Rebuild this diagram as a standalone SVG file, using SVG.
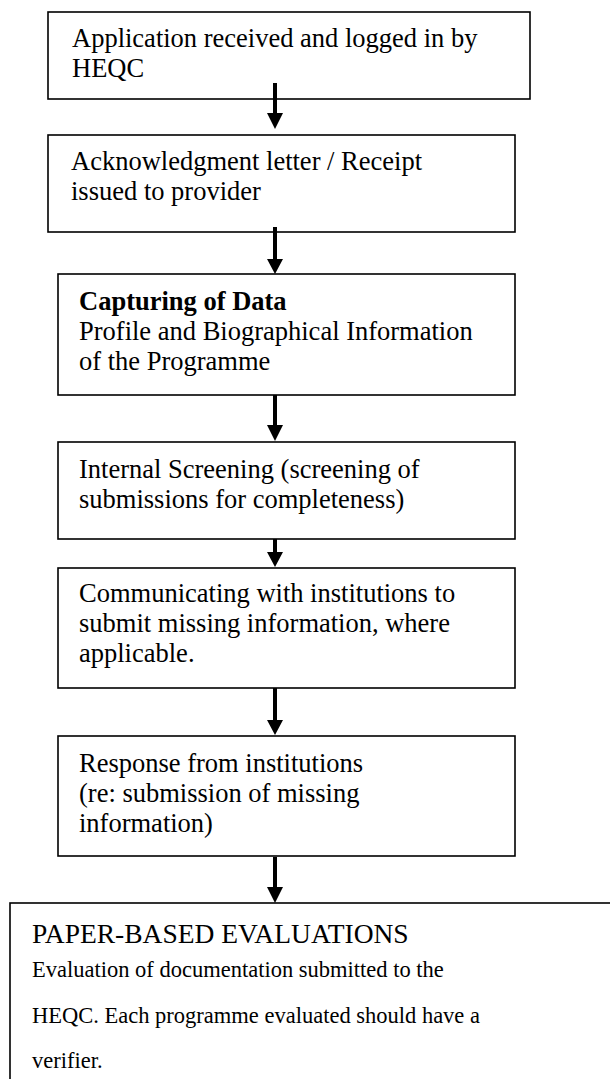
<svg xmlns="http://www.w3.org/2000/svg" width="610" height="1079" viewBox="0 0 610 1079">
<style>
.box{fill:#fff;stroke:#000;stroke-width:1.6}
.t{font-family:"Liberation Serif","Times New Roman",serif;font-size:26.5px;fill:#000}
.b{font-weight:bold}
.title{font-size:27.5px}
.body{font-size:22.5px}
.shaft{stroke:#000;stroke-width:4;fill:none}
.head{fill:#000}
</style>
<rect width="610" height="1079" fill="#fff"/>
<g id="node1">
<rect class="box" x="48" y="12" width="482" height="87"/>
<text class="t" x="72" y="47">Application received and logged in by</text>
<text class="t" x="72" y="77">HEQC</text>
</g>
<g id="node2">
<rect class="box" x="48" y="135" width="467" height="97"/>
<text class="t" x="71" y="170">Acknowledgment letter / Receipt</text>
<text class="t" x="71" y="200">issued to provider</text>
</g>
<g id="node3">
<rect class="box" x="58" y="274" width="457" height="121"/>
<text class="t b" x="79" y="310">Capturing of Data</text>
<text class="t" x="79" y="340">Profile and Biographical Information</text>
<text class="t" x="79" y="370">of the Programme</text>
</g>
<g id="node4">
<rect class="box" x="58" y="442" width="457" height="97"/>
<text class="t" x="79" y="478">Internal Screening (screening of</text>
<text class="t" x="79" y="508">submissions for completeness)</text>
</g>
<g id="node5">
<rect class="box" x="58" y="568" width="457" height="120"/>
<text class="t" x="79" y="602">Communicating with institutions to</text>
<text class="t" x="79" y="632">submit missing information, where</text>
<text class="t" x="79" y="662">applicable.</text>
</g>
<g id="node6">
<rect class="box" x="58" y="736" width="457" height="120"/>
<text class="t" x="79" y="772">Response from institutions</text>
<text class="t" x="79" y="802">(re: submission of missing</text>
<text class="t" x="79" y="832">information)</text>
</g>
<g id="node7">
<rect class="box" x="10" y="903" width="620" height="200"/>
<text class="t title" x="32" y="943">PAPER-BASED EVALUATIONS</text>
<text class="t body" x="32" y="977">Evaluation of documentation submitted to the</text>
<text class="t body" x="32" y="1023">HEQC. Each programme evaluated should have a</text>
<text class="t body" x="32" y="1068">verifier.</text>
</g>
<g id="connectors">
<line class="shaft" x1="275" y1="83" x2="275" y2="114"/>
<polygon class="head" points="267,113 283,113 275,129"/>
<line class="shaft" x1="275" y1="227" x2="275" y2="260"/>
<polygon class="head" points="267,259 283,259 275,274"/>
<line class="shaft" x1="275" y1="395" x2="275" y2="426"/>
<polygon class="head" points="267,425 283,425 275,441"/>
<line class="shaft" x1="275" y1="539" x2="275" y2="553"/>
<polygon class="head" points="267,552 283,552 275,567"/>
<line class="shaft" x1="275" y1="688" x2="275" y2="721"/>
<polygon class="head" points="267,720 283,720 275,735"/>
<line class="shaft" x1="275" y1="857" x2="275" y2="888"/>
<polygon class="head" points="267,887 283,887 275,903"/>
</g>
</svg>
